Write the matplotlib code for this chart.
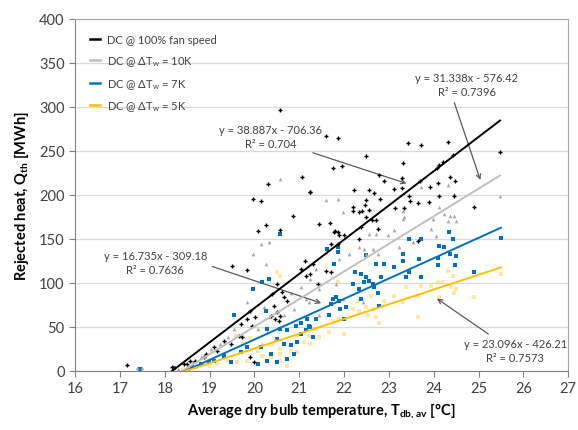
import numpy as np
import matplotlib
matplotlib.use("Agg")
import matplotlib.pyplot as plt

plt.rcParams['font.family'] = ['Lato', 'DejaVu Sans']
plt.rcParams['mathtext.fontset'] = 'custom'
plt.rcParams['mathtext.rm'] = 'Lato'
plt.rcParams['mathtext.bf'] = 'Lato:bold'

# ---- data ----
# DC @ 100% fan speed (black +)
x_full = [17.16, 18.17, 20.56, 20.31, 21.07, 21.23, 19.96, 20.14, 20.85, 20.25, 20.07, 20.56,
          21.59, 21.86, 23.42, 23.71, 22.48, 23.31, 21.95, 21.75, 22.77, 22.89, 23.29, 23.11,
          23.29, 23.69, 23.91, 21.25, 22.22, 22.55, 22.66, 22.80, 23.44, 23.47, 23.65, 23.89,
          23.13, 23.33, 22.48, 22.46, 22.19, 22.19, 22.33, 22.39, 22.55, 22.50, 22.62, 22.71,
          21.43, 21.68, 21.79, 21.86, 22.37, 22.75, 24.32, 24.43, 24.20, 24.11, 24.07, 25.48,
          24.09, 24.36, 24.47, 24.11, 24.45, 24.90, 19.50, 19.84, 21.12, 21.03, 21.14, 20.51,
          20.62, 20.40, 20.66, 20.73, 20.43, 20.36, 20.51, 20.58, 20.47, 20.55, 19.91, 20.02,
          19.84, 19.69, 19.95, 19.65, 19.73, 19.47, 19.32, 19.09, 19.17, 18.91, 18.87, 18.68,
          18.57, 18.50, 18.42, 19.91, 19.99, 21.77, 21.88, 21.99, 21.70, 21.86, 22.33, 21.30,
          21.59, 21.70, 21.41, 21.25, 23.65]
y_full = [6.8, 4.5, 296.6, 212, 220, 203, 195, 193, 176, 166, 159, 160,
          267, 265, 259, 257, 244, 236, 233, 231, 223, 216, 219, 207,
          208, 216, 209, 203, 206, 206, 202, 195, 199, 193, 191, 192,
          185, 185, 194, 188, 186, 182, 180, 182, 183, 175, 172, 172,
          167, 168, 159, 158, 164, 161, 260, 245, 237, 234, 231, 249,
          214, 220, 216, 199, 199, 186, 119.7, 114.8, 125.4, 115.9, 108.3, 98.9,
          89.4, 87.5, 83.7, 79.9, 74.2, 62.9, 66.7, 62.1, 59.1, 57.2, 68.5, 61.0,
          59.1, 53.4, 51.5, 40.1, 38.3, 30.7, 34.4, 26.9, 23.1, 19.3, 15.6, 11.7,
          11.7, 8.0, 8.0, 15.6, 9.9, 158, 154, 154, 144, 144, 150, 122,
          114, 112, 99, 110, 148]

# DC @ dTw = 10K (grey triangles)
x_10k = [17.39, 17.50, 18.30, 20.56, 21.59, 21.86, 21.97, 23.71, 23.31, 23.31, 23.11, 24.32,
         24.45, 24.11, 24.22, 24.36, 24.49, 23.98, 25.48, 20.14, 20.32, 19.96, 20.25, 19.84,
         20.21, 20.32, 19.54, 19.40, 19.24, 19.02, 18.80, 18.64, 20.07, 20.29, 20.66, 20.88,
         21.14, 21.03, 20.81, 20.47, 20.18, 22.55, 22.71, 22.98, 21.59, 21.88, 22.10, 22.33,
         22.44, 22.48, 22.64, 22.75, 23.22, 23.53, 21.25, 21.43, 21.81, 21.97, 21.21, 21.43,
         22.42, 21.37, 23.33, 23.94, 24.32, 24.45, 24.05]
y_10k = [3, 3, 2, 218, 194, 195, 180, 209, 182, 173, 160, 211,
         201, 186, 178, 176, 170, 173, 199, 144, 146, 133, 122, 78,
         73, 61, 48, 39, 31, 25, 16, 10, 48, 44, 63, 70,
         82, 95, 89, 36, 31, 156, 156, 154, 135, 127, 133, 141,
         139, 133, 139, 133, 141, 147, 105, 93, 99, 82, 78, 63,
         78, 116, 175, 161, 170, 176, 153]

# DC @ dTw = 7K (blue squares)
x_7k = [17.45, 18.20, 20.58, 20.32, 20.18, 19.96, 19.54, 20.25, 20.29, 20.58, 20.73, 20.92,
        21.03, 21.18, 20.51, 20.66, 20.81, 20.96, 20.14, 19.84, 19.69, 19.32, 19.09, 18.98,
        19.47, 20.29, 20.51, 20.07, 20.36, 20.88, 20.73, 21.03, 21.14, 21.21, 21.63, 21.86,
        21.86, 22.48, 22.71, 22.89, 23.31, 23.31, 23.11, 23.67, 21.77, 22.24, 22.37, 22.48,
        22.55, 22.44, 22.64, 22.66, 22.19, 22.33, 22.75, 22.37, 22.82, 23.38, 23.44, 23.71,
        22.77, 21.75, 21.81, 21.88, 21.92, 21.70, 21.66, 22.04, 21.37, 21.25, 21.30, 22.00,
        24.11, 24.22, 24.34, 24.43, 24.36, 24.49, 24.09, 24.47, 24.09, 24.90, 25.50, 23.44,
        23.71, 18.60, 18.80]
y_7k = [2, 3, 156, 104, 101, 93, 63, 68, 48, 48, 46, 51,
        55, 59, 36, 31, 29, 33, 27, 27, 22, 17, 11, 10,
        10, 11, 10, 8, 19, 19, 14, 42, 46, 51, 139, 141,
        135, 132, 122, 122, 133, 125, 118, 127, 122, 112, 110, 107,
        102, 101, 99, 95, 99, 93, 89, 82, 107, 107, 112, 107,
        74, 82, 84, 80, 70, 76, 63, 73, 59, 50, 39, 59,
        142, 141, 158, 150, 133, 131, 128, 120, 120, 112, 151, 150,
        150, 5, 8]

# DC @ dTw = 5K (yellow)
x_5k = [18.40, 18.70, 20.51, 20.58, 19.60, 19.91, 19.75, 20.07, 20.18, 20.36, 20.58, 20.81,
        20.96, 20.58, 20.73, 19.17, 19.40, 19.62, 19.84, 21.10, 21.21, 20.96, 20.58, 21.86,
        22.19, 22.33, 22.48, 22.64, 22.53, 22.71, 22.77, 21.88, 21.75, 22.00, 21.66, 21.37,
        21.25, 21.43, 22.89, 23.11, 23.38, 23.65, 23.71, 23.65, 22.30, 22.60, 23.31, 24.32,
        24.43, 24.09, 24.20, 24.38, 24.49, 24.45, 24.11, 24.90, 25.50, 23.94, 19.00, 20.40]
y_5k = [2, 4, 112, 108, 40, 38, 31, 23, 17, 16, 19, 23,
        21, 11, 6, 8, 11, 10, 11, 33, 40, 40, 25, 101,
        70, 68, 73, 70, 63, 61, 55, 59, 57, 42, 44, 48,
        31, 39, 80, 85, 95, 85, 97, 61, 80, 85, 78, 114,
        108, 101, 101, 95, 93, 88, 84, 84, 110, 97, 6, 30]

# trend lines as printed on the chart: slope, intercept, R2
trend_full = (38.887, -706.36, 0.704)
trend_10k = (31.338, -576.42, 0.7396)
trend_7k = (23.096, -426.21, 0.7573)
trend_5k = (16.735, -309.18, 0.7636)

labels = ['DC @ 100% fan speed', r'DC @ ΔT$_\mathregular{w}$ = 10K',
          r'DC @ ΔT$_\mathregular{w}$ = 7K', r'DC @ ΔT$_\mathregular{w}$ = 5K']

fig = plt.figure(figsize=(5.78, 4.31), dpi=100)
ax = fig.add_axes([0.130, 0.137, 0.853, 0.817])

c_black, c_grey, c_blue, c_yel = '#000000', '#a6a6a6', '#0070c0', '#ffc000'

ax.scatter(x_5k, y_5k, marker='s', s=5, color='#ffd966', alpha=0.6, lw=0, zorder=2)
ax.scatter(x_7k, y_7k, marker='s', s=9, color=c_blue, lw=0, zorder=3)
ax.scatter(x_10k, y_10k, marker='^', s=7, color=c_grey, lw=0, zorder=3)
ax.scatter(x_full, y_full, marker='+', s=11, color=c_black, lw=1.0, zorder=4)

series = [(x_full, trend_full, c_black), (x_10k, trend_10k, '#bfbfbf'),
          (x_7k, trend_7k, c_blue), (x_5k, trend_5k, c_yel)]
for (xs, (a, b, r2), col), lab in zip(series, labels):
    xx = np.linspace(min(xs), max(xs), 50)
    ax.plot(xx, a * xx + b, color=col, lw=1.4, zorder=5, label=lab)

# equation labels with arrows
def eq(a, b, r2):
    return 'y = %gx - %g\nR² = %g' % (a, -b, r2)

ak = dict(arrowstyle='->', color='#595959', lw=0.9)
tk = dict(fontsize=8, color='#404040', ha='center', va='center', linespacing=1.3)
ax.annotate(eq(*trend_full), xy=(23.45, 212), xytext=(20.36, 266),
            arrowprops=dict(ak, relpos=(0.62, 0.25)), **tk)
ax.annotate(eq(*trend_10k), xy=(25.06, 214), xytext=(24.74, 325),
            arrowprops=dict(ak, relpos=(0.36, 0.0)), **tk)
ax.annotate(eq(*trend_5k), xy=(21.55, 76), xytext=(17.79, 123),
            arrowprops=dict(ak, relpos=(0.87, 0.6)), **tk)
ax.annotate(eq(*trend_7k), xy=(24.02, 84), xytext=(25.82, 23),
            arrowprops=dict(ak, relpos=(0.3, 1.0)), **tk)

ax.set_xlim(16, 27)
ax.set_ylim(0, 400)
ax.set_xticks(range(16, 28))
ax.set_yticks(range(0, 401, 50))
ax.yaxis.grid(True, color='#d9d9d9', lw=0.9)
ax.set_axisbelow(True)
ax.tick_params(labelsize=10.5, colors='#404040', length=4, color='#808080')
for sp in ['top', 'right']:
    ax.spines[sp].set_color('#a6a6a6')
for sp in ['left', 'bottom']:
    ax.spines[sp].set_color('#808080')

ax.set_xlabel(r'Average dry bulb temperature, T$_\mathbf{db,av}$ [°C]',
              fontsize=10.5, fontweight='bold', labelpad=4)
ax.set_ylabel(r'Rejected heat, Q$_\mathbf{th}$ [MWh]',
              fontsize=10.5, fontweight='bold', labelpad=6)

leg = ax.legend(loc='upper left', frameon=False, fontsize=8, handlelength=0.9,
                labelspacing=0.8, borderaxespad=0.5, handletextpad=0.6,
                bbox_to_anchor=(0.01, 0.985))
for t in leg.get_texts():
    t.set_color('#404040')
for h in leg.get_lines():
    h.set_linewidth(1.8)

fig.savefig('out.png', dpi=100)
